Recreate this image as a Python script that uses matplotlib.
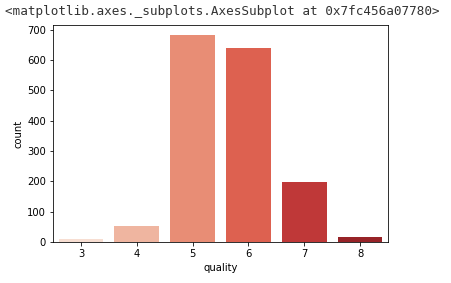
import matplotlib
matplotlib.use("Agg")
import matplotlib.pyplot as plt
import seaborn as sns

quality = ["3", "4", "5", "6", "7", "8"]
counts = [10, 53, 681, 638, 199, 18]
repr_text = "<matplotlib.axes._subplots.AxesSubplot at 0x7fc456a07780>"

fig = plt.figure(figsize=(451 / 72, 283 / 72), dpi=72)
ax = fig.add_axes([53 / 451, 41 / 283, 335 / 451, 217 / 283])

sns.barplot(x=quality, y=counts, hue=quality, palette="Reds", saturation=0.75,
            legend=False, ax=ax)
ax.set_xlabel("quality")
ax.set_ylabel("count")
ax.set_ylim(0, 715)

fig.text(5 / 451, 1 - 11 / 283, repr_text, family="DejaVu Sans Mono",
         fontsize=12.6, va="center", ha="left", color="#333333")

fig.savefig("out.png", dpi=72)
